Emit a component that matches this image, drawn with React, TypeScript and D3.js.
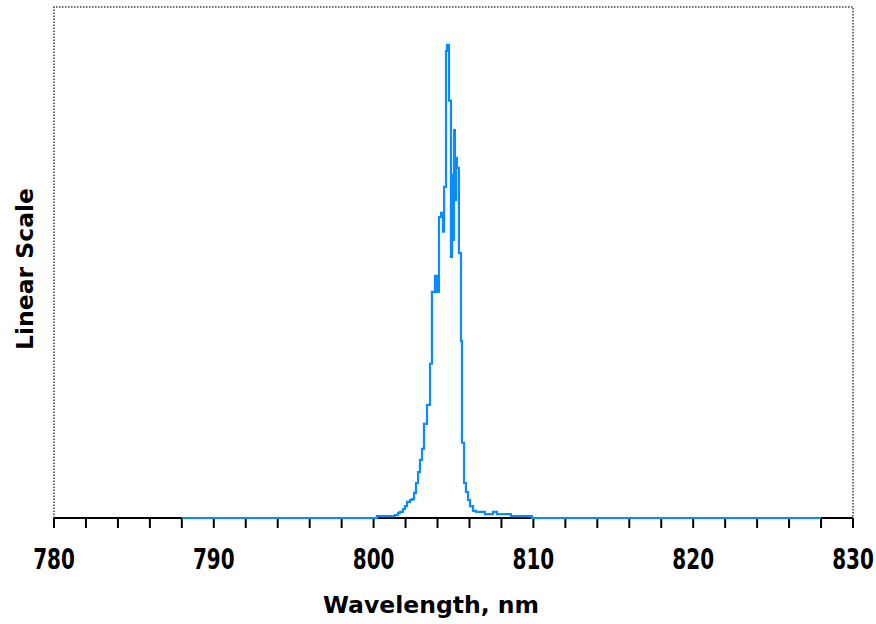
import React from "react";
import * as d3 from "d3";

// Spectrum samples (wavelength nm, relative intensity), step profile
const wavelengths = [
  788.0, 800.21, 801.34, 801.53, 801.65, 801.84, 801.96, 802.09, 802.28, 802.4,
  802.53, 802.65, 802.78, 802.9, 803.03, 803.15, 803.34, 803.53, 803.65, 803.84,
  803.97, 804.09, 804.22, 804.34, 804.41, 804.53, 804.59, 804.72, 804.84, 804.91,
  804.97, 805.03, 805.09, 805.16, 805.22, 805.34, 805.47, 805.53, 805.66, 805.78,
  805.91, 806.03, 806.22, 806.41, 806.97, 807.47, 807.72, 808.6, 809.91, 828.0,
];
const intensities = [
  0, 0.004, 0.006, 0.011, 0.013, 0.019, 0.025, 0.034, 0.038, 0.04,
  0.053, 0.074, 0.097, 0.123, 0.146, 0.199, 0.239, 0.326, 0.478, 0.512,
  0.478, 0.636, 0.645, 0.605, 0.7, 0.987, 1.0, 0.882, 0.552, 0.725,
  0.588, 0.82, 0.672, 0.761, 0.74, 0.56, 0.374, 0.159, 0.074, 0.055,
  0.038, 0.025, 0.015, 0.013, 0.008, 0.013, 0.008, 0.004, 0, 0,
];
const xDomain = [780, 830];
const yDomain = [0, 1.08];
const majorTicks = [780, 790, 800, 810, 820, 830];
const minorTicks = d3.range(780, 831, 2);
const xTitle = "Wavelength, nm";
const yTitle = "Linear Scale";

export default function App() {
  const W = 876;
  const H = 624;
  const left = 54, right = 853, top = 7, bottom = 518;
  const x = d3.scaleLinear().domain(xDomain).range([left, right]);
  const y = d3.scaleLinear().domain(yDomain).range([bottom, top]);
  const pts = wavelengths.map((w, i) => [w, intensities[i]] as [number, number]);
  const line = d3
    .line<[number, number]>()
    .x((d) => x(d[0]))
    .y((d) => y(d[1]))
    .curve(d3.curveStepAfter);

  const font = "'DejaVu Sans', Verdana, sans-serif";
  return (
    <svg
      width={W}
      height={H}
      style={{ position: "absolute", left: 0, top: 0, background: "#fff" }}
    >
      {/* dotted frame */}
      <path
        d={`M${left},${bottom} L${left},${top} L${right},${top} L${right},${bottom}`}
        fill="none"
        stroke="#6e6e6e"
        strokeWidth={2}
        strokeDasharray="1.5,1.5"
      />
      {/* x axis */}
      <line x1={left} x2={right} y1={bottom} y2={bottom} stroke="#000" strokeWidth={2} />
      {minorTicks.map((t) => (
        <line
          key={t}
          x1={x(t)}
          x2={x(t)}
          y1={bottom}
          y2={bottom + 10}
          stroke="#000"
          strokeWidth={2}
        />
      ))}
      {majorTicks.map((t) => (
        <text
          key={t}
          transform={`translate(${x(t)},569) scale(1,1.42)`}
          textAnchor="middle"
          fontFamily={font}
          fontWeight="bold"
          fontSize={20}
          fill="#000"
        >
          {t}
        </text>
      ))}
      {/* spectrum */}
      <path d={line(pts) || ""} fill="none" stroke="#0a8cff" strokeWidth={2.2} />
      {/* titles */}
      <text
        x={431}
        y={613}
        textAnchor="middle"
        fontFamily={font}
        fontWeight="bold"
        fontSize={23.5}
        fill="#000"
      >
        {xTitle}
      </text>
      <text
        transform="translate(33,269) rotate(-90)"
        textAnchor="middle"
        fontFamily={font}
        fontWeight="bold"
        fontSize={23.5}
        fill="#000"
      >
        {yTitle}
      </text>
    </svg>
  );
}
